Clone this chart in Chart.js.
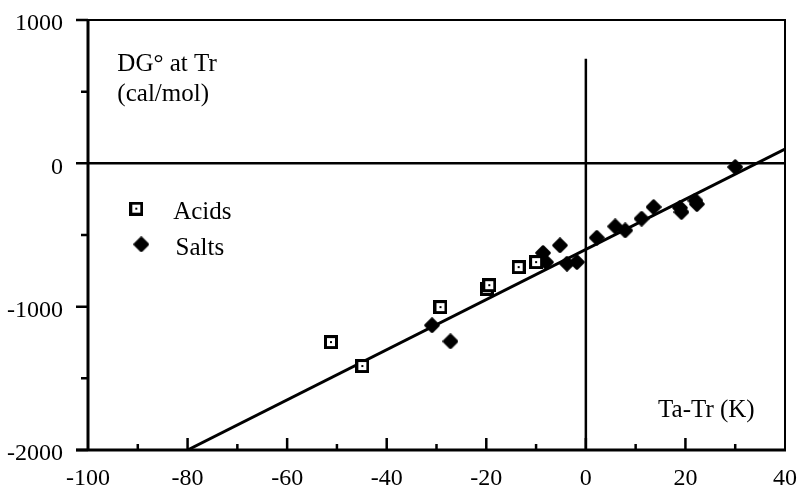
<!DOCTYPE html>
<html lang="en">
<head>
    <meta charset="UTF-8">
    <title>DG at Tr vs Ta-Tr</title>
    <style>
        body { margin: 0; background: #fff; }
        .wrap { width: 798px; height: 491px; }
    </style>
</head>
<body>
<div class="wrap">
    <canvas id="dgChart" width="798" height="491"></canvas>
</div>

<script src="https://cdn.jsdelivr.net/npm/chart.js"></script>
<script>
    // Values
    const acidsX = [-51.2, -44.9, -29.2, -19.9, -19.4, -13.5, -10.0];
    const acidsY = [-1247, -1414, -1003, -875, -850, -724, -689];

    const saltsX = [-30.9, -27.2, -8.6, -8.0, -5.2, -3.8, -1.8, 2.2, 5.9, 7.9, 11.2, 13.6, 18.9, 19.2, 22.0, 22.3, 30.0];
    const saltsY = [-1130, -1242, -625, -690, -572, -700, -689, -519, -440, -468, -386, -305, -310, -340, -260, -285, -26];

    // regression line end points
    const fitX = [-80, 40];
    const fitY = [-2000, 100];

    // reference lines
    const zeroLineX = [-100, 40];
    const zeroLineY = [0, 0];
    const vertLineX = [0, 0];
    const vertLineY = [-2000, 730];

    const xTicks = [-100, -80, -60, -40, -20, 0, 20, 40];
    const yTicks = [-2000, -1000, 0, 1000];

    const FONT = '"Liberation Serif", "Times New Roman", serif';

    function pts(xs, ys) {
        return xs.map((x, i) => ({ x: x, y: ys[i] }));
    }

    // square with white center and a dot
    function acidMarker() {
        const c = document.createElement('canvas');
        c.width = 14; c.height = 14;
        const g = c.getContext('2d');
        g.fillStyle = '#000';
        g.fillRect(0, 0, 14, 14);
        g.fillStyle = '#fff';
        g.fillRect(3, 3, 8, 8);
        g.fillStyle = '#000';
        g.fillRect(6, 6, 2, 2);
        return c;
    }

    // rounded filled diamond
    function saltMarker() {
        const c = document.createElement('canvas');
        c.width = 16; c.height = 16;
        const g = c.getContext('2d');
        g.fillStyle = '#000';
        g.strokeStyle = '#000';
        g.lineWidth = 2.5;
        g.lineJoin = 'round';
        g.beginPath();
        g.moveTo(8, 1.5); g.lineTo(14.5, 8); g.lineTo(8, 14.5); g.lineTo(1.5, 8);
        g.closePath();
        g.fill(); g.stroke();
        return c;
    }

    const acidImg = acidMarker();
    const saltImg = saltMarker();

    // frame, ticks, labels and legend drawn in data space
    const decor = {
        id: 'decor',
        afterDatasetsDraw(chart) {
            const ctx = chart.ctx;
            const xs = chart.scales.x, ys = chart.scales.y;
            const a = chart.chartArea;
            ctx.save();
            ctx.strokeStyle = '#000';
            ctx.lineCap = 'butt';

            // frame
            ctx.lineWidth = 3;
            ctx.beginPath();
            ctx.moveTo(a.left, a.top - 1); ctx.lineTo(a.left, a.bottom + 1.5);
            ctx.moveTo(a.left - 12, a.bottom); ctx.lineTo(a.right + 1, a.bottom);
            ctx.stroke();
            ctx.lineWidth = 2;
            ctx.beginPath();
            ctx.moveTo(a.left - 12, a.top); ctx.lineTo(a.right + 1, a.top);
            ctx.moveTo(a.right, a.top); ctx.lineTo(a.right, a.bottom);
            ctx.stroke();

            // y ticks: major every 1000, minor every 500, outward
            ctx.lineWidth = 2.5;
            ctx.beginPath();
            for (let v = -2000; v <= 1000; v += 500) {
                const py = ys.getPixelForValue(v);
                const len = (v % 1000 === 0) ? 12 : 7;
                ctx.moveTo(a.left - len, py); ctx.lineTo(a.left, py);
            }
            // x ticks: major every 20, minor every 10, inward
            for (let v = -90; v < 40; v += 10) {
                const px = xs.getPixelForValue(v);
                const len = (v % 20 === 0) ? 12 : 6;
                ctx.moveTo(px, a.bottom); ctx.lineTo(px, a.bottom - len);
            }
            ctx.stroke();

            // texts
            ctx.fillStyle = '#000';
            ctx.font = '25px ' + FONT;
            ctx.textAlign = 'left';
            ctx.textBaseline = 'alphabetic';
            const T = (s, x, y) => ctx.fillText(s, xs.getPixelForValue(x), ys.getPixelForValue(y));
            T('DG\u00B0 at Tr', -94.1, 644);
            T('(cal/mol)', -94.1, 435);
            T('Acids', -82.9, -391);
            T('Salts', -82.4, -642);
            T('Ta-Tr (K)', 14.5, -1770);

            // legend markers
            const ax = xs.getPixelForValue(-90.3), ay = ys.getPixelForValue(-316);
            ctx.drawImage(acidImg, ax - 7, ay - 7);
            const sx = xs.getPixelForValue(-89.3), sy = ys.getPixelForValue(-565);
            ctx.drawImage(saltImg, sx - 8, sy - 8);
            ctx.restore();
        }
    };

    function noPad(s) {
        s.paddingTop = 0; s.paddingBottom = 0;
        s.paddingLeft = 0; s.paddingRight = 0;
    }

    const ctx = document.getElementById('dgChart').getContext('2d');
    new Chart(ctx, {
        type: 'scatter',
        data: {
            datasets: [
                {
                    label: 'Acids',
                    data: pts(acidsX, acidsY),
                    pointStyle: acidImg,
                    pointRadius: 7
                },
                {
                    label: 'Salts',
                    data: pts(saltsX, saltsY),
                    pointStyle: saltImg,
                    pointRadius: 8
                },
                {
                    label: 'fit',
                    data: pts(fitX, fitY),
                    showLine: true,
                    borderColor: '#000',
                    borderWidth: 3,
                    pointRadius: 0
                },
                {
                    label: 'zero',
                    data: pts(zeroLineX, zeroLineY),
                    showLine: true,
                    borderColor: '#000',
                    borderWidth: 2.5,
                    pointRadius: 0
                },
                {
                    label: 'vert',
                    data: pts(vertLineX, vertLineY),
                    showLine: true,
                    borderColor: '#000',
                    borderWidth: 2.5,
                    pointRadius: 0
                }
            ]
        },
        options: {
            responsive: false,
            animation: false,
            events: [],
            layout: { autoPadding: false, padding: { top: 20, right: 13, left: 0, bottom: 0 } },
            plugins: {
                legend: { display: false },
                tooltip: { enabled: false }
            },
            scales: {
                x: {
                    type: 'linear',
                    min: -100,
                    max: 40,
                    afterBuildTicks: s => { s.ticks = xTicks.map(v => ({ value: v })); },
                    afterFit: s => { s.height = 41; noPad(s); },
                    grid: { display: false, drawTicks: false },
                    border: { display: false },
                    ticks: {
                        color: '#000',
                        font: { family: FONT, size: 24 },
                        padding: 14,
                        maxRotation: 0,
                        callback: v => String(v)
                    }
                },
                y: {
                    type: 'linear',
                    min: -2000,
                    max: 1000,
                    afterBuildTicks: s => { s.ticks = yTicks.map(v => ({ value: v })); },
                    afterFit: s => { s.width = 88; noPad(s); },
                    grid: { display: false, drawTicks: false },
                    border: { display: false },
                    ticks: {
                        color: '#000',
                        font: { family: FONT, size: 24 },
                        padding: 25,
                        labelOffset: 4,
                        callback: v => String(v)
                    }
                }
            }
        },
        plugins: [decor]
    });
</script>
</body>
</html>
